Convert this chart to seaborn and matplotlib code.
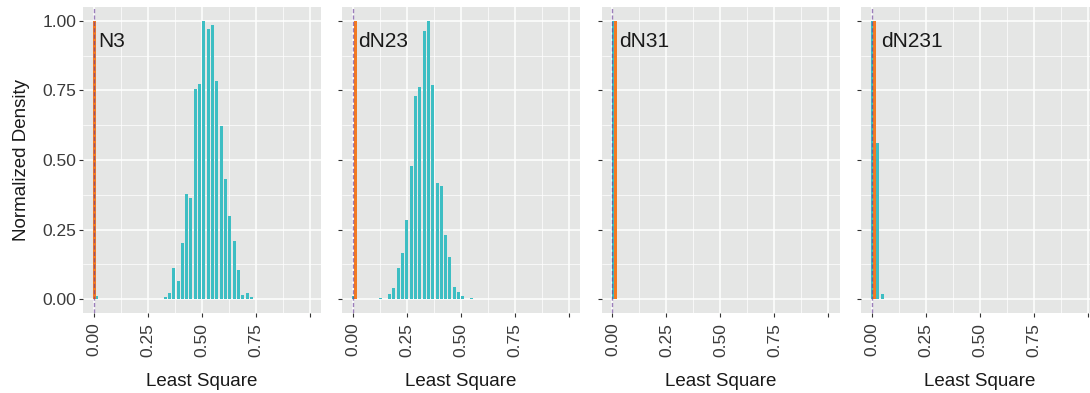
import numpy as np
import pandas as pd
import matplotlib
matplotlib.use("Agg")
import matplotlib.pyplot as plt
import seaborn as sns
from matplotlib.ticker import FixedLocator

# ---------------- data ----------------
panel_labels = ["N3", "dN23", "dN31", "dN231"]

# simulated distribution (teal): bin centres and normalized heights
n3_x = [0.013, 0.33, 0.35, 0.37, 0.39, 0.41, 0.43, 0.45, 0.47, 0.49, 0.51,
        0.53, 0.55, 0.57, 0.59, 0.61, 0.63, 0.65, 0.67, 0.69, 0.71, 0.73]
n3_h = [0.01, 0.008, 0.023, 0.113, 0.066, 0.203, 0.376, 0.365, 0.757, 0.775, 1.0,
        0.970, 0.984, 0.783, 0.621, 0.433, 0.300, 0.210, 0.106, 0.016, 0.023, 0.008]

dn23_x = [0.003, 0.13, 0.17, 0.19, 0.21, 0.23, 0.25, 0.27, 0.29, 0.31, 0.33,
          0.35, 0.37, 0.39, 0.41, 0.43, 0.45, 0.47, 0.49, 0.51, 0.55]
dn23_h = [0.01, 0.005, 0.019, 0.041, 0.113, 0.167, 0.286, 0.477, 0.729, 0.761, 0.964,
          1.0, 0.768, 0.419, 0.405, 0.232, 0.152, 0.044, 0.026, 0.012, 0.005]

dn31_x = [0.003]
dn31_h = [1.0]

dn231_x = [0.003, 0.026, 0.048]
dn231_h = [1.0, 0.56, 0.02]

# observed values (orange)
obs_x = [0.003, 0.012, 0.012, 0.014]
obs_h = [1.0, 1.0, 1.0, 1.0]

sim_x = [n3_x, dn23_x, dn31_x, dn231_x]
sim_h = [n3_h, dn23_h, dn31_h, dn231_h]

x_ticks = [0.0, 0.25, 0.5, 0.75, 1.0]
x_ticklabels = ["0.00", "0.25", "0.50", "0.75", ""]
y_ticks = [0.0, 0.25, 0.5, 0.75, 1.0]
y_ticklabels = ["0.00", "0.25", "0.50", "0.75", "1.00"]

# ---------------- style ----------------
sns.set_theme(style="darkgrid")
plt.rcParams["font.family"] = ["Liberation Sans", "DejaVu Sans"]

TEAL = "#3DBEC3"
ORANGE = "#F37A22"
BG = "#E5E6E5"
PURPLE = "#6A3D9A"
BAR_W = 0.014

fig = plt.figure(figsize=(10.9, 3.93), dpi=100)
W, H = 1090.0, 393.0
lefts = [83, 342, 601.7, 861]
pw = 238
top_px, bot_px = 7, 313
label_x = [0.02, 0.026, 0.032, 0.045]


def draw_bars(ax, centers, heights, color):
    edges = []
    for c in centers:
        edges += [c - BAR_W / 2, c + BAR_W / 2]
    df = pd.DataFrame({"x": centers, "h": heights})
    sns.histplot(data=df, x="x", weights="h", bins=edges, ax=ax, color=color,
                 alpha=1, linewidth=0, stat="count")


for i in range(4):
    ax = fig.add_axes([lefts[i] / W, 1 - bot_px / H, pw / W, (bot_px - top_px) / H])
    ax.set_facecolor(BG)
    draw_bars(ax, sim_x[i], sim_h[i], TEAL)
    draw_bars(ax, [obs_x[i]], [obs_h[i]], ORANGE)
    ax.axvline(0, color=PURPLE, alpha=0.65, lw=1.0, ls=(0, (3, 1.6)), zorder=5)

    ax.set_xlim(-0.05, 1.052)
    ax.set_ylim(-0.05, 1.05)
    ax.set_xticks(x_ticks)
    ax.set_xticklabels(x_ticklabels, rotation=90)
    ax.set_yticks(y_ticks)
    if i == 0:
        ax.set_yticklabels(y_ticklabels)
        ax.set_ylabel("Normalized Density", fontsize=13.5, color="#1a1a1a", labelpad=9)
    else:
        ax.set_yticklabels([])
        ax.set_ylabel("")
    ax.xaxis.set_minor_locator(FixedLocator([0.125, 0.375, 0.625, 0.875]))
    ax.yaxis.set_minor_locator(FixedLocator([0.125, 0.375, 0.625, 0.875]))
    ax.grid(which="major", color="white", lw=1.1)
    ax.grid(which="minor", color="white", lw=0.5)
    ax.set_axisbelow(True)
    ax.tick_params(which="major", length=3, width=0.8, color="#333333",
                   labelsize=12.5, labelcolor="#3a3a3a", pad=2, bottom=True, left=True)
    ax.tick_params(axis="x", which="major", pad=4)
    ax.tick_params(which="minor", length=0)
    ax.set_xlabel("Least Square", fontsize=13.5, color="#1a1a1a", labelpad=12)
    for s in ax.spines.values():
        s.set_visible(False)
    ax.text(label_x[i], 0.906, panel_labels[i], fontsize=15, color="#1a1a1a",
            ha="left", va="baseline", zorder=6)

fig.savefig("out.png", dpi=100)
